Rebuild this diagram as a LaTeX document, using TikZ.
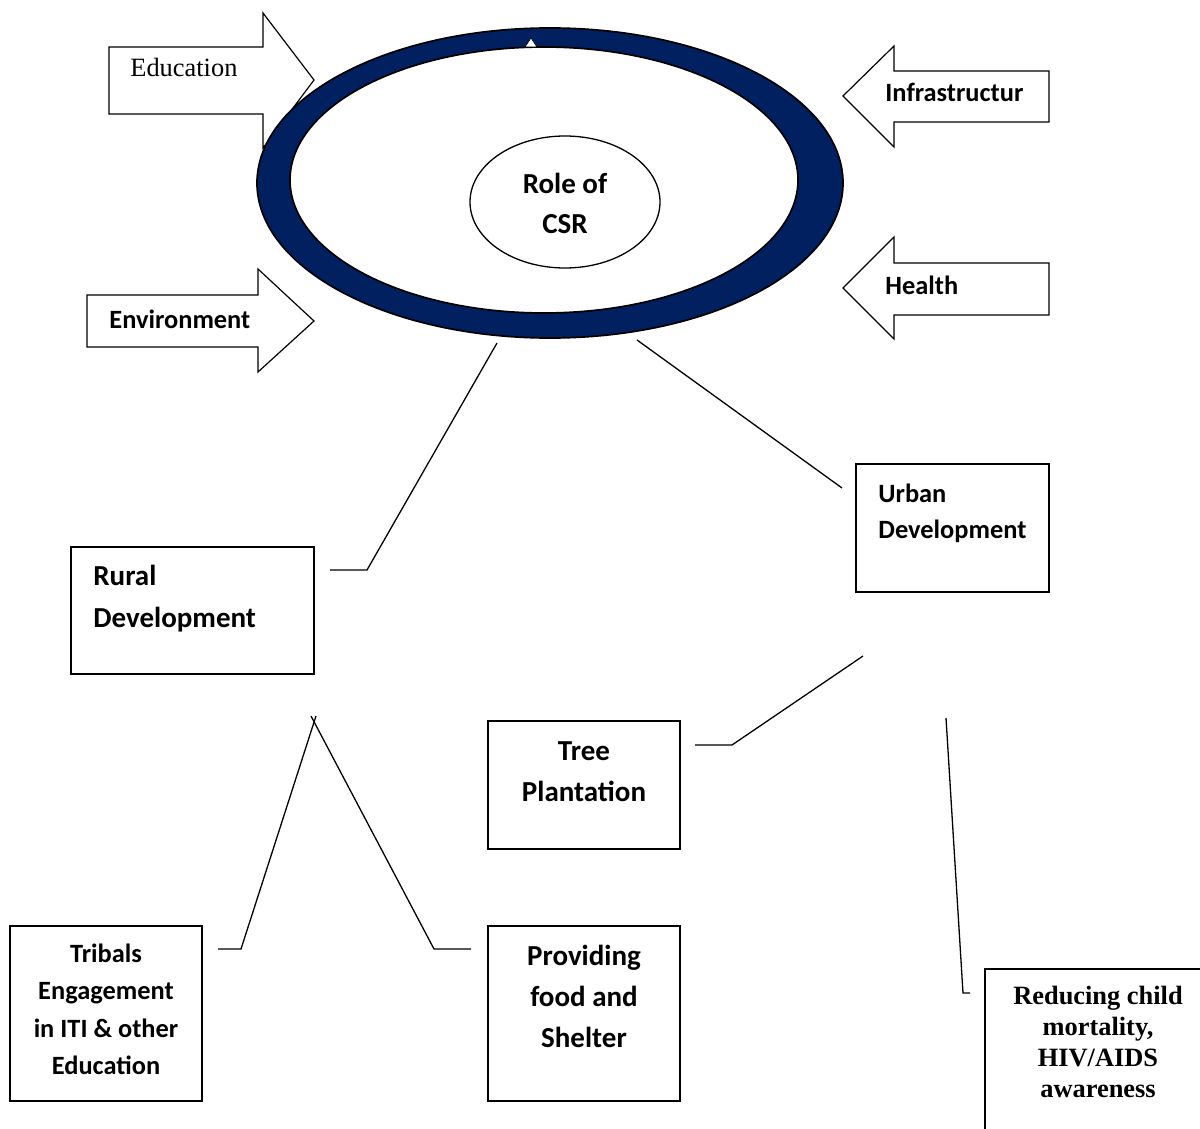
\documentclass[tikz,border=0pt]{standalone}
\usepackage{fontspec}
\setmainfont{Carlito}
\newfontfamily\tnr{Liberation Serif}
\usetikzlibrary{shapes.geometric,fit}
\definecolor{ringblue}{RGB}{0,32,96}
\newcommand{\txtblock}[2]{\begin{tabular}[t]{@{}#1@{}}#2\end{tabular}}
\begin{document}
\begin{tikzpicture}[x=0.5pt, y=-0.5pt, line join=miter,
  box/.style={draw, line width=0.75pt, inner sep=0pt, fill=white},
  link/.style={line width=0.65pt},
  arrowshape/.style={draw, fill=white, line width=0.6pt},
  txtA/.style={inner sep=0pt, font=\bfseries\fontsize{13.2}{#1}\selectfont},
  txtA/.default=16,
  txtB/.style={inner sep=0pt, font=\bfseries\fontsize{14.5}{#1}\selectfont},
  txtB/.default=17,
  serifR/.style={inner sep=0pt, font=\tnr\fontsize{13.2}{16}\selectfont},
  serifB/.style={inner sep=0pt, font=\tnr\bfseries\fontsize{13.2}{#1}\selectfont},
  serifB/.default=16]
\useasboundingbox (0,0) rectangle (1200,1129);

% arrow behind the ring
\draw[arrowshape] (109,47) -- (263,47) -- (263,13) -- (314,80) -- (263,148) -- (263,114) -- (109,114) -- cycle;
\node[serifR, anchor=base west] (edutxt) at (130,77) {Education};

% ring
\fill[ringblue, even odd rule] (550,183) ellipse [x radius=146.5pt, y radius=77.5pt]
  (544,180) ellipse [x radius=127pt, y radius=66.5pt];
\draw[line width=0.85pt] (550,183) ellipse [x radius=146.5pt, y radius=77.5pt];
\draw[line width=0.85pt, fill=white] (544,180) ellipse [x radius=127pt, y radius=66.5pt];
\filldraw[fill=white, line width=0.3pt] (531,38) -- (537,47) -- (525,47) -- cycle;
\coordinate (ringc) at (550,183);

% inner ellipse
\node[draw, ellipse, minimum width=95pt, minimum height=66pt, inner sep=0pt, line width=0.65pt] (roleell) at (565,202) {};
\node[txtB=20.5, anchor=base] (roletxt) at (565,193) {\txtblock{c}{Role of\\CSR}};

% other arrows
\draw[arrowshape] (87,295) -- (258,295) -- (258,269) -- (314,321) -- (258,372) -- (258,347) -- (87,347) -- cycle;
\node[txtA, anchor=base west] (envtxt) at (109,328) {Environment};
\draw[arrowshape] (1049,71) -- (894,71) -- (894,46) -- (843,96) -- (894,147) -- (894,122) -- (1049,122) -- cycle;
\node[txtA, anchor=base west] (inftxt) at (885,102) {Infrastructur};
\draw[arrowshape] (1049,263) -- (894,263) -- (894,237) -- (843,288) -- (894,339) -- (894,315) -- (1049,315) -- cycle;
\node[txtA, anchor=base west] (heatxt) at (885,294) {Health};

% boxes
\node[box, fit={(71,547) (314,674)}] (rural) {};
\node[txtB=21, anchor=base west] (ruraltxt) at (93,585) {\txtblock{l}{Rural\\Development}};
\node[box, fit={(856,464) (1049,592)}] (urban) {};
\node[txtA=18, anchor=base west] (urbantxt) at (878,502) {\txtblock{l}{Urban\\Development}};
\node[box, fit={(488,721) (680,849)}] (tree) {};
\node[txtB=20.5, anchor=base] (treetxt) at (584,760) {\txtblock{c}{Tree\\Plantation}};
\node[box, fit={(10,926) (202,1101)}] (tribals) {};
\node[txtA=18.75, anchor=base] (tribtxt) at (106,962) {\txtblock{c}{Tribals\\Engagement\\in ITI \& other\\Education}};
\node[box, fit={(488,926) (680,1101)}] (food) {};
\node[txtB=20.5, anchor=base] (foodtxt) at (584,965) {\txtblock{c}{Providing\\food and\\Shelter}};
\node[box, fit={(985,969) (1220,1150)}] (health) {};
\node[serifB=15.5, anchor=base] (healthtxt) at (1098,1004) {\txtblock{c}{Reducing child\\mortality,\\HIV/AIDS\\awareness}};

% connectors
\coordinate (r1) at (330,570); \coordinate (r2) at (367,570); \coordinate (r3) at (497,343);
\draw[link] (r1) -- (r2) -- (r3);
\coordinate (u1) at (637,340); \coordinate (u2) at (842,488);
\draw[link] (u1) -- (u2);
\coordinate (t1) at (863,656); \coordinate (t2) at (732,745); \coordinate (t3) at (695,745);
\draw[link] (t1) -- (t2) -- (t3);
\coordinate (h1) at (946,718); \coordinate (h2) at (963,993); \coordinate (h3) at (970,993);
\draw[link] (h1) -- (h2) -- (h3);
\coordinate (a1) at (218,949); \coordinate (a2) at (241,949); \coordinate (a3) at (316,716);
\draw[link] (a1) -- (a2) -- (a3);
\coordinate (b1) at (471,949); \coordinate (b2) at (434,949); \coordinate (b3) at (311,716);
\draw[link] (b1) -- (b2) -- (b3);
\end{tikzpicture}
\end{document}
